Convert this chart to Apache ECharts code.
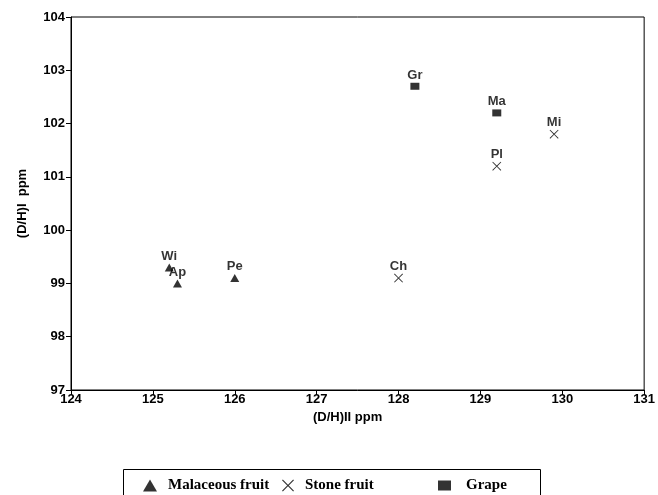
<!DOCTYPE html>
<html>
<head>
<meta charset="utf-8">
<script src="https://cdn.jsdelivr.net/npm/echarts@6/dist/echarts.min.js"></script>
<style>
  html, body { margin: 0; padding: 0; background: #fff; }
  #chart { width: 658px; height: 495px; }
</style>
</head>
<body>
<div id="chart"></div>
<script>
// (D/H)II vs (D/H)I for fruit ethanols, grouped by fruit type
const malaceousNames = ['Wi', 'Ap', 'Pe'];
const malaceousX = [125.2, 125.3, 126.0];
const malaceousY = [99.3, 99.0, 99.1];

const stoneNames = ['Ch', 'Pl', 'Mi'];
const stoneX = [128.0, 129.2, 129.9];
const stoneY = [99.1, 101.2, 101.8];

const grapeNames = ['Gr', 'Ma'];
const grapeX = [128.2, 129.2];
const grapeY = [102.7, 102.2];

const xTicks = [124, 125, 126, 127, 128, 129, 130, 131];
const yTicks = [97, 98, 99, 100, 101, 102, 103, 104];

const crossPath = 'path://M0,0.7L0.7,0L5,4.3L9.3,0L10,0.7L5.7,5L10,9.3L9.3,10L5,5.7L0.7,10L0,9.3L4.3,5Z';

function points(names, xs, ys) {
  return names.map((n, i) => ({ name: n, value: [xs[i], ys[i]] }));
}

const sansBold = { fontFamily: 'Liberation Sans, Arial, sans-serif', fontWeight: 'bold', color: '#000' };
const serifBold = { fontFamily: 'Liberation Serif, Times New Roman, serif', fontWeight: 'bold', fontSize: 15, color: '#000' };

const pointLabel = {
  show: true,
  position: 'top',
  distance: 1,
  formatter: p => p.name,
  fontSize: 13,
  ...sansBold
};

const chart = echarts.init(document.getElementById('chart'));
chart.setOption({
  animation: false,
  backgroundColor: '#fff',
  grid: {
    left: 71, right: 9, top: 17, bottom: 105,
    show: true, borderColor: '#000', borderWidth: 1
  },
  xAxis: {
    type: 'value',
    min: xTicks[0], max: xTicks[xTicks.length - 1], interval: 1,
    name: '(D/H)II ppm', nameLocation: 'middle', nameGap: 14,
    nameTextStyle: { fontSize: 13, ...sansBold, padding: [0, 20, 0, 0] },
    axisLine: { lineStyle: { color: '#000', width: 1 } },
    axisTick: { show: true, length: 5, lineStyle: { color: '#000' } },
    axisLabel: { fontSize: 13, margin: 3, ...sansBold },
    splitLine: { show: false }
  },
  yAxis: {
    type: 'value',
    min: yTicks[0], max: yTicks[yTicks.length - 1], interval: 1,
    name: '(D/H)I  ppm', nameLocation: 'middle', nameGap: 42, nameRotate: 90,
    nameTextStyle: { fontSize: 13, ...sansBold },
    axisLine: { lineStyle: { color: '#000', width: 1 } },
    axisTick: { show: true, length: 5, lineStyle: { color: '#000' } },
    axisLabel: { fontSize: 13, margin: 6, ...sansBold },
    splitLine: { show: false }
  },
  legend: [
    {
      data: [{ name: 'Malaceous fruit', icon: 'triangle' }],
      left: 138, top: 473, itemWidth: 14, itemHeight: 12, itemGap: 0,
      textStyle: { ...serifBold, padding: [0, 0, 0, 6] }
    },
    {
      data: [{ name: 'Stone fruit', icon: crossPath }],
      left: 277, top: 473, itemWidth: 12, itemHeight: 12, itemGap: 0,
      textStyle: { ...serifBold, padding: [0, 0, 0, 6] }
    },
    {
      data: [{ name: 'Grape', icon: 'rect' }],
      left: 433, top: 473, itemWidth: 13, itemHeight: 10, itemGap: 0,
      textStyle: { ...serifBold, padding: [0, 0, 0, 10] }
    }
  ],
  graphic: [
    {
      type: 'rect',
      shape: { x: 123.5, y: 469.5, width: 417, height: 40 },
      style: { fill: 'none', stroke: '#000', lineWidth: 1 },
      silent: true, z: -1
    }
  ],
  series: [
    {
      name: 'Malaceous fruit', type: 'scatter',
      symbol: 'triangle', symbolSize: [9, 8],
      itemStyle: { color: '#000' },
      label: pointLabel,
      data: points(malaceousNames, malaceousX, malaceousY)
    },
    {
      name: 'Stone fruit', type: 'scatter',
      symbol: crossPath, symbolSize: 9,
      itemStyle: { color: '#000' },
      label: pointLabel,
      data: points(stoneNames, stoneX, stoneY)
    },
    {
      name: 'Grape', type: 'scatter',
      symbol: 'rect', symbolSize: [9, 7],
      itemStyle: { color: '#000' },
      label: pointLabel,
      data: points(grapeNames, grapeX, grapeY)
    }
  ]
});
</script>
</body>
</html>
